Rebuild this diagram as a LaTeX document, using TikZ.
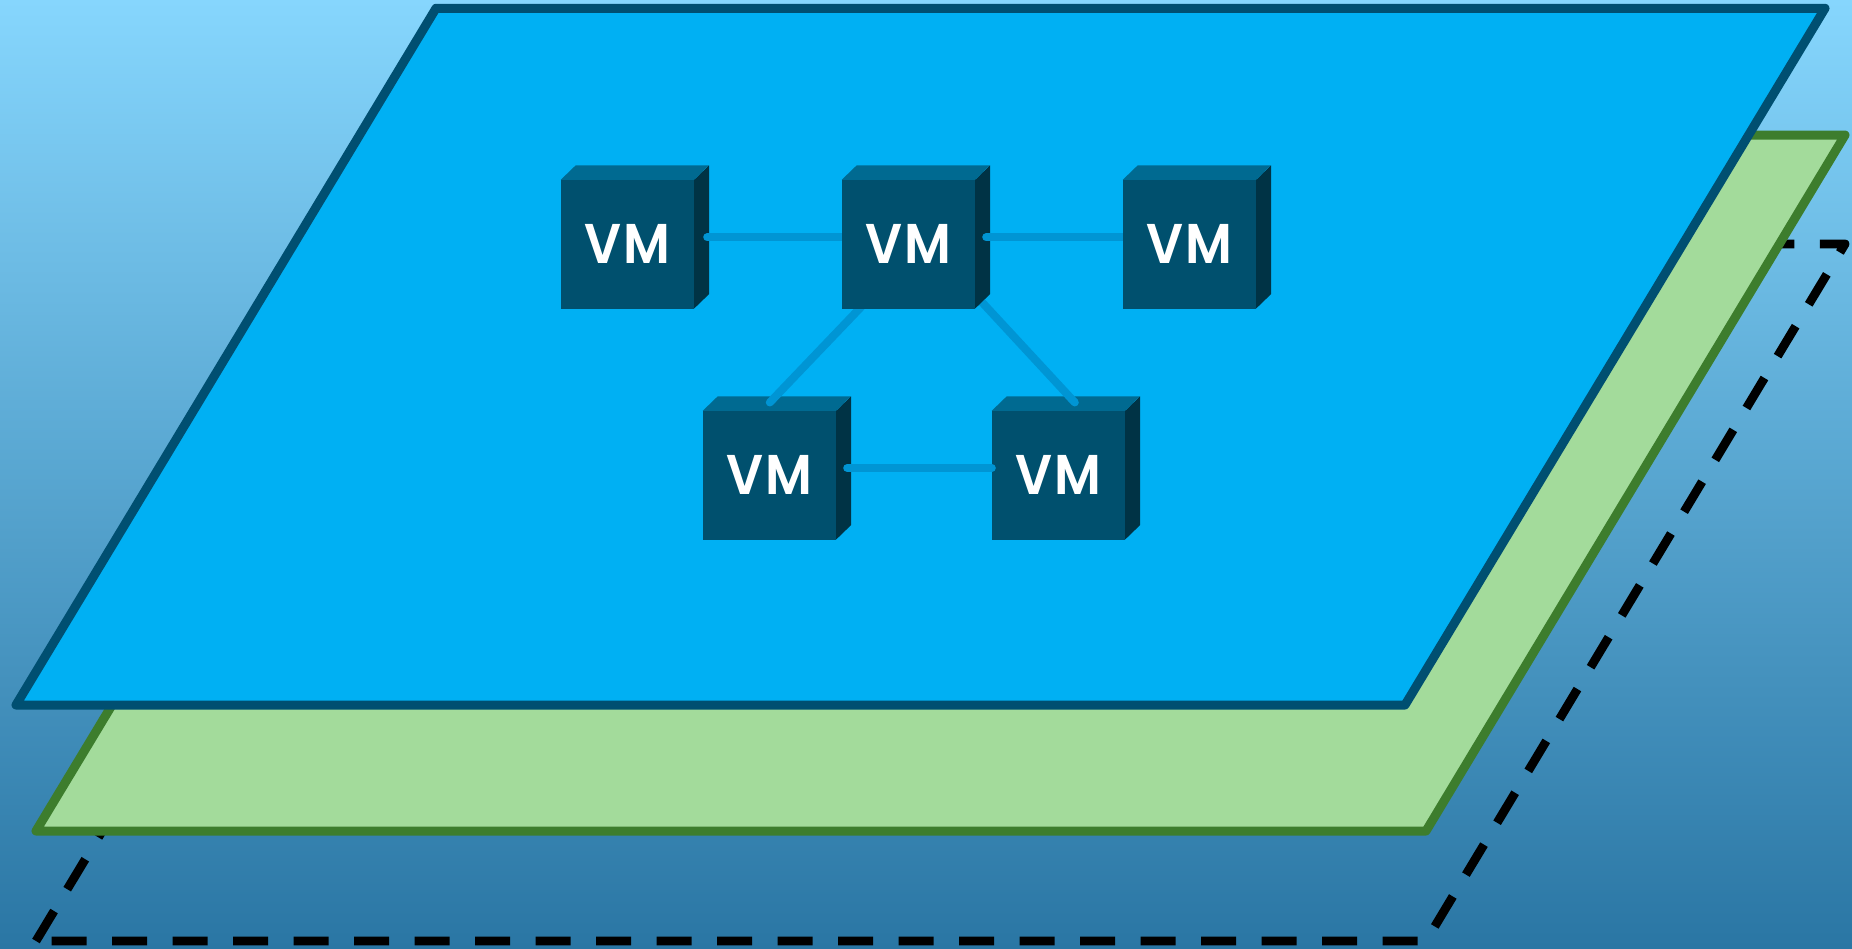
\documentclass[tikz,border=0pt]{standalone}
\usepackage{fontspec}
\setmainfont{Poppins}
\newfontfamily\vmfont[LetterSpace=3,FakeStretch=0.93]{Poppins SemiBold}
\pgfdeclarelayer{uppera}\pgfdeclarelayer{upperb}\pgfdeclarelayer{upperc}
\pgfsetlayers{main,uppera,upperb,upperc}
\definecolor{bgtop}{HTML}{86D6FD}
\definecolor{bgbot}{HTML}{2A76A4}
\definecolor{bluefill}{HTML}{00B0F3}
\definecolor{bluestroke}{HTML}{004F71}
\definecolor{greenfill}{HTML}{A3DB9B}
\definecolor{greenstroke}{HTML}{3D7D2D}
\definecolor{cubefrontc}{HTML}{00506E}
\definecolor{cubetopc}{HTML}{006A91}
\definecolor{cubesidec}{HTML}{003345}
\definecolor{linkc}{HTML}{0095D4}
\tikzset{
  planeblue/.style={fill=bluefill,draw=bluestroke,line width=9pt,line join=round},
  planegreen/.style={fill=greenfill,draw=greenstroke,line width=9pt,line join=round},
  planedash/.style={draw=black,line width=8.8pt,line join=round,dash pattern=on 35pt off 25.49pt},
  cubefront/.style={fill=cubefrontc,text=white,inner sep=0pt,minimum width=133pt,minimum height=128.7pt,
    font=\vmfont\fontsize{56}{56}\selectfont},
  cubetop/.style={fill=cubetopc},
  cubeside/.style={fill=cubesidec},
  vmlink/.style={draw=linkc,line width=8pt,line cap=round}
}
\newcommand{\vmcube}[2]{%
  \node[cubefront] (#1) at (#2) {\raisebox{-1.2pt}{VM}};
  \fill[cubetop] (#1.north west) -- ++(15,-14.5) -- ++(133,0) -- ++(-15,14.5) -- cycle;
  \fill[cubeside] (#1.north east) -- ++(15,-14.5) -- ++(0,128.7) -- ++(-15,14.5) -- cycle;
}
\begin{document}
\begin{tikzpicture}[x=1pt,y=-1pt]
\shade[top color=bgtop,bottom color=bgbot] (0,0) rectangle (1852,948);
\useasboundingbox (0,0) rectangle (1852,948);
% planes, back to front
\draw[planedash] (36,941) -- (456,244) -- (1845,244) -- (1426,941) -- cycle;
\draw[planegreen] (36,831) -- (456,135) -- (1845,135) -- (1426,831) -- cycle;
\draw[planeblue] (16,705) -- (436,8.3) -- (1825,8.3) -- (1405,705) -- cycle;
% cubes
\vmcube{vma}{627.5,244.3}
\vmcube{vmd}{769.5,475.3}
\vmcube{vme}{1058.5,475.3}
\begin{pgfonlayer}{uppera}
\vmcube{vmb}{908.5,244.3}
\end{pgfonlayer}
\begin{pgfonlayer}{upperc}
\vmcube{vmc}{1189.5,244.3}
\end{pgfonlayer}
% connectors
\draw[vmlink] ([shift={(13,-7)}]vma.east) -- ([shift={(2,-7)}]vmb.west);
\draw[vmlink] ([shift={(28,-11)}]vmb.south west) -- ([shift={(67,-8.3)}]vmd.north west);
\draw[vmlink] ([shift={(0,-14)}]vmb.south east) -- ([shift={(83,-8.3)}]vme.north west);
\draw[vmlink] ([shift={(11,-7.3)}]vmd.east) -- ([shift={(0,-7.3)}]vme.west);
\begin{pgfonlayer}{upperb}
\draw[vmlink] ([shift={(11,-7)}]vmb.east) -- ([shift={(2,-7)}]vmc.west);
\end{pgfonlayer}
\end{tikzpicture}
\end{document}
